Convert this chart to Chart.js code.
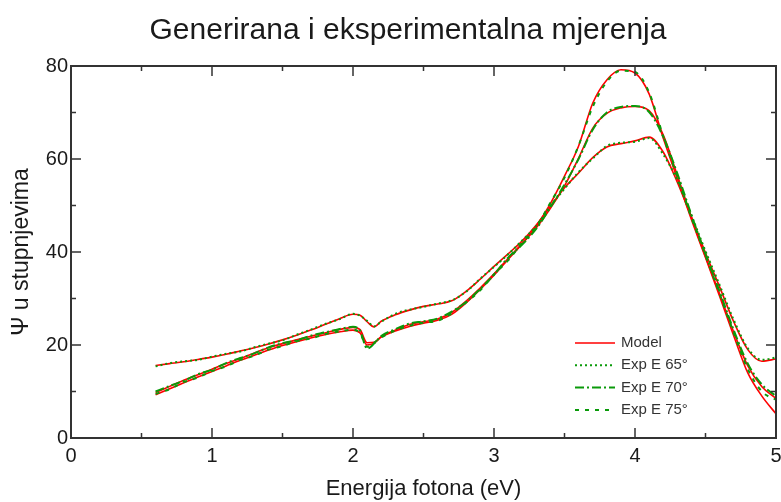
<!DOCTYPE html>
<html>
<head>
<meta charset="utf-8">
<script src="https://cdn.jsdelivr.net/npm/chart.js@4/dist/chart.umd.min.js"></script>
<style>
  body { margin: 0; background: #fff; }
  #wrap { width: 781px; height: 502px; }
</style>
</head>
<body>
<div id="wrap"><canvas id="psiChart" width="781" height="502"></canvas></div>
<script>
// photon energy (eV)
const energy = [0.6, 0.7, 0.8, 0.9, 1.0, 1.1, 1.2, 1.3, 1.4, 1.5, 1.6, 1.7, 1.8, 1.9, 2.0, 2.05, 2.1, 2.15, 2.2, 2.3,
  2.4, 2.5, 2.6, 2.7, 2.8, 2.9, 3.0, 3.1, 3.2, 3.3, 3.4, 3.5, 3.6, 3.7, 3.8, 3.9, 4.0, 4.1, 4.2, 4.3,
  4.4, 4.5, 4.6, 4.7, 4.8, 4.9, 5.0];

// model (generated) Psi
const model65 = [15.6, 16.0, 16.4, 16.9, 17.4, 18.0, 18.7, 19.4, 20.2, 21.1, 22.1, 23.2, 24.4, 25.6, 26.6, 26.4, 25.0, 23.9, 25.1, 26.5,
  27.5, 28.3, 28.8, 29.5, 31.5, 34.1, 36.9, 39.6, 42.4, 45.8, 49.8, 53.8, 57.0, 60.3, 62.6, 63.3, 63.9, 64.7, 61.5, 55.0,
  47.5, 39.8, 32.5, 25.0, 19.0, 16.5, 17.0];
const model70 = [9.8, 11.1, 12.4, 13.6, 14.8, 16.0, 17.1, 18.3, 19.4, 20.3, 21.1, 21.9, 22.6, 23.3, 23.8, 23.3, 20.5, 20.6, 21.8, 23.2,
  24.4, 25.0, 25.6, 27.0, 29.4, 32.2, 35.3, 38.6, 41.8, 45.2, 49.4, 54.2, 60.2, 66.6, 69.8, 71.0, 71.3, 70.4, 65.2, 56.5,
  47.5, 39.0, 31.0, 22.8, 15.5, 11.0, 8.5];
const model75 = [9.3, 10.6, 11.9, 13.1, 14.3, 15.5, 16.7, 17.8, 18.9, 19.9, 20.7, 21.5, 22.2, 22.8, 23.2, 22.6, 20.0, 20.4, 21.7, 23.0,
  24.0, 24.7, 25.3, 26.6, 29.0, 31.9, 35.0, 38.4, 41.8, 45.6, 50.4, 56.3, 62.8, 72.0, 77.0, 79.2, 78.5, 74.0, 64.5, 55.8,
  47.0, 38.8, 30.5, 22.0, 14.0, 9.0, 5.2];

// experimental Psi
const exp65 = [15.4, 16.1, 16.5, 16.8, 17.5, 18.1, 18.6, 19.5, 20.3, 21.0, 22.2, 23.3, 24.5, 25.5, 26.7, 26.3, 25.2, 24.0, 25.0, 26.7,
  27.6, 28.2, 28.9, 29.6, 31.4, 34.2, 36.8, 39.5, 42.5, 45.6, 49.9, 53.6, 57.2, 60.1, 62.8, 63.5, 63.7, 64.5, 61.0, 55.4,
  47.9, 40.2, 32.9, 25.4, 19.3, 16.8, 17.3];
const exp70 = [10.0, 11.2, 12.3, 13.7, 14.7, 16.1, 17.2, 18.2, 19.5, 20.4, 21.0, 22.0, 22.7, 23.4, 23.9, 23.1, 19.2, 20.3, 21.9, 23.4,
  24.6, 25.1, 25.7, 27.2, 29.2, 32.0, 35.1, 38.8, 41.6, 45.0, 49.6, 54.5, 60.0, 66.3, 70.0, 71.2, 71.4, 70.1, 64.8, 56.9,
  48.0, 39.5, 31.5, 23.2, 16.0, 11.5, 9.0];
const exp75 = [9.5, 10.5, 12.0, 13.0, 14.4, 15.4, 16.8, 17.7, 19.0, 19.8, 20.8, 21.4, 22.3, 22.9, 23.3, 22.5, 19.6, 20.5, 21.6, 23.1,
  24.1, 24.8, 25.2, 26.8, 29.1, 31.7, 35.2, 38.2, 42.0, 45.4, 50.6, 56.0, 62.9, 71.2, 76.6, 79.0, 78.7, 74.3, 64.9, 56.2,
  47.4, 39.3, 31.0, 22.6, 14.8, 10.0, 8.2];

const xTicks = [0, 1, 2, 3, 4, 5];
const xMinor = [0.5, 1.5, 2.5, 3.5, 4.5];
const yTicks = [0, 20, 40, 60, 80];
const yMinor = [10, 30, 50, 70];

const TITLE = "Generirana i eksperimentalna mjerenja";
const FONT = "'Liberation Sans', Arial, sans-serif";
const RED = "#ff0000";
const GREEN = "#0a9a0a";

function pts(values) {
  return values.map((v, i) => ({ x: energy[i], y: v }));
}

// legendRank: position in the inner legend (null = not listed)
function modelSet(values, rank) {
  return {
    data: pts(values), legendLabel: "Model", legendRank: rank,
    borderColor: RED, borderWidth: 1.6, pointRadius: 0,
    cubicInterpolationMode: "monotone", order: 2,
  };
}
function expSet(values, label, rank, dash) {
  return {
    data: pts(values), legendLabel: label, legendRank: rank,
    borderColor: GREEN, borderWidth: 2, borderDash: dash, pointRadius: 0,
    cubicInterpolationMode: "monotone", order: 1,
  };
}

// title centred a bit right of the canvas middle, as in the original
const titlePlugin = {
  id: "plotTitle",
  afterDraw(chart) {
    const { ctx } = chart;
    ctx.save();
    ctx.font = "30px " + FONT;
    ctx.fillStyle = "#1a1a1a";
    ctx.textAlign = "center";
    ctx.textBaseline = "alphabetic";
    ctx.fillText(TITLE, 408, 38.5);
    ctx.restore();
  }
};

// box with inward ticks
const framePlugin = {
  id: "frame",
  afterDraw(chart) {
    const { ctx, chartArea: a } = chart;
    const x = chart.scales.x, y = chart.scales.y;
    ctx.save();
    ctx.strokeStyle = "#333";
    ctx.lineWidth = 2;
    ctx.strokeRect(a.left, a.top, a.right - a.left, a.bottom - a.top);
    ctx.lineWidth = 1.5;
    ctx.beginPath();
    const tickX = (v, len) => {
      const px = x.getPixelForValue(v);
      ctx.moveTo(px, a.bottom); ctx.lineTo(px, a.bottom - len);
      ctx.moveTo(px, a.top); ctx.lineTo(px, a.top + len);
    };
    const tickY = (v, len) => {
      const py = y.getPixelForValue(v);
      ctx.moveTo(a.left, py); ctx.lineTo(a.left + len, py);
      ctx.moveTo(a.right, py); ctx.lineTo(a.right - len, py);
    };
    xTicks.slice(1, -1).forEach(v => tickX(v, 10));
    xMinor.forEach(v => tickX(v, 5));
    yTicks.slice(1, -1).forEach(v => tickY(v, 10));
    yMinor.forEach(v => tickY(v, 5));
    ctx.stroke();
    ctx.restore();
  }
};

// legend inside the plot, lower right
const legendPlugin = {
  id: "innerLegend",
  afterDatasetsDraw(chart) {
    const { ctx, chartArea: a } = chart;
    const items = chart.data.datasets
      .filter(d => d.legendRank != null)
      .sort((p, q) => p.legendRank - q.legendRank);
    const x0 = a.right - 201, x1 = a.right - 161, tx = a.right - 155;
    let ty = a.bottom - 95;
    ctx.save();
    ctx.font = "15px " + FONT;
    ctx.textBaseline = "middle";
    items.forEach(d => {
      ctx.strokeStyle = d.borderColor;
      ctx.lineWidth = d.borderWidth;
      ctx.setLineDash(d.borderDash || []);
      ctx.beginPath();
      ctx.moveTo(x0, ty); ctx.lineTo(x1, ty);
      ctx.stroke();
      ctx.setLineDash([]);
      ctx.fillStyle = "#333";
      ctx.fillText(d.legendLabel, tx, ty);
      ty += 22.3;
    });
    ctx.restore();
  }
};

Chart.defaults.font.family = FONT;
Chart.defaults.color = "#1a1a1a";

const ctx = document.getElementById("psiChart").getContext("2d");
const chart = new Chart(ctx, {
  type: "line",
  data: {
    datasets: [
      expSet(exp65, "Exp E 65°", 1, [2, 3]),
      expSet(exp70, "Exp E 70°", 2, [9, 3, 2, 3]),
      expSet(exp75, "Exp E 75°", 3, [4, 6]),
      modelSet(model65, 0),
      modelSet(model70, null),
      modelSet(model75, null),
    ],
  },
  options: {
    responsive: false,
    animation: false,
    layout: { padding: { left: 0, right: 5, top: 66, bottom: 0 } },
    plugins: {
      legend: { display: false },
      tooltip: { enabled: false },
      title: { display: false },
    },
    scales: {
      x: {
        type: "linear", min: 0, max: 5,
        afterBuildTicks: s => { s.ticks = xTicks.map(v => ({ value: v })); },
        afterFit: s => { s.height = 64; s.paddingLeft = 0; s.paddingRight = 0; },
        grid: { display: false, drawTicks: false },
        border: { display: false },
        ticks: { font: { size: 20 }, padding: 6, maxRotation: 0 },
        title: { display: true, text: "Energija fotona (eV)", font: { size: 22 }, padding: { top: 0, bottom: 0 } },
      },
      y: {
        type: "linear", min: 0, max: 80,
        afterBuildTicks: s => { s.ticks = yTicks.map(v => ({ value: v })); },
        afterFit: s => { s.width = 71; s.paddingTop = 0; s.paddingBottom = 0; },
        grid: { display: false, drawTicks: false },
        border: { display: false },
        ticks: { font: { size: 20 }, padding: 3 },
        title: { display: true, text: "Ψ u stupnjevima", font: { size: 23 }, padding: { top: 8, bottom: 0 } },
      },
    },
  },
  plugins: [titlePlugin, framePlugin, legendPlugin],
});
</script>
</body>
</html>
